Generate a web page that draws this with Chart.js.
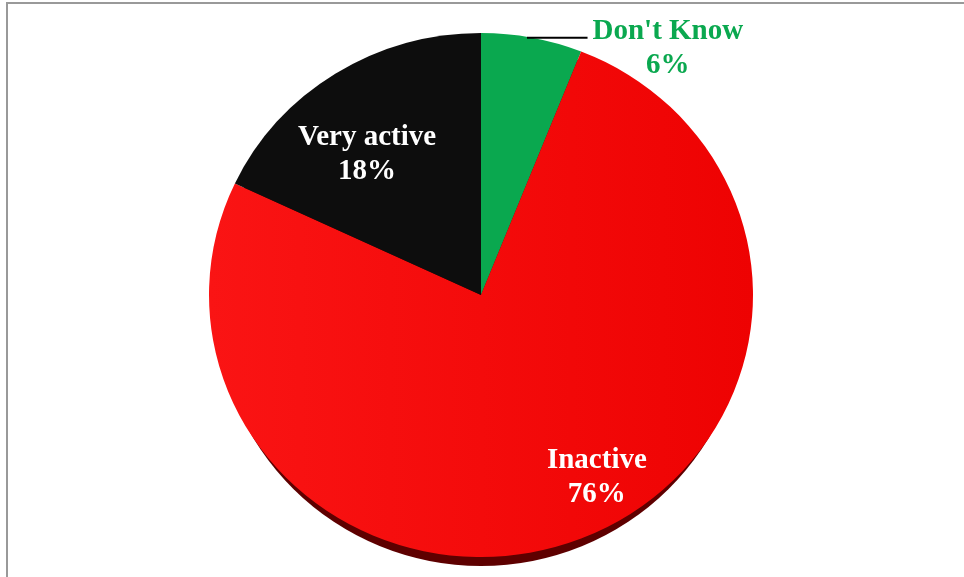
<!DOCTYPE html>
<html>
<head>
<meta charset="utf-8">
<title>Activity</title>
<script src="https://cdn.jsdelivr.net/npm/chart.js@4.4.1/dist/chart.umd.min.js"></script>
<style>
  html, body { margin: 0; padding: 0; background: #fff; overflow: hidden; }
  #wrap { position: relative; width: 964px; height: 577px; }
  #frame {
    position: absolute; left: 6px; top: 2px; width: 1000px; height: 640px;
    border: 2px solid #999; box-sizing: border-box;
  }
  #pie { position: absolute; left: 0; top: 0; }
</style>
</head>
<body>
<div id="wrap">
  <div id="frame"></div>
  <canvas id="pie" width="964" height="577"></canvas>
</div>
<script>
const categories = ["Don't Know", 'Inactive', 'Very active'];
const shares = [6, 76, 18];
const sliceColors = ['#0aa84f', '#f20808', '#0d0d0d'];
const labelColors = ['#0aa84f', '#ffffff', '#ffffff'];

// squash the pie a little so it reads as a tilted disc
const TILT = 262 / 272;

function tilt(ctx, x, y) {
    ctx.translate(x, y);
    ctx.scale(1, TILT);
    ctx.translate(-x, -y);
}

const tiltedPie = {
    id: 'tiltedPie',
    beforeDatasetsDraw(chart) {
        const arc = chart.getDatasetMeta(0).data[0];
        if (!arc) return;
        const ctx = chart.ctx;
        // dark rim under the disc, only shows along the lower edge
        ctx.save();
        ctx.translate(0, 9);
        tilt(ctx, arc.x, arc.y);
        ctx.beginPath();
        ctx.ellipse(arc.x, arc.y, arc.outerRadius - 7, arc.outerRadius, 0, 0, Math.PI * 2);
        ctx.fillStyle = '#5e0000';
        ctx.fill();
        ctx.restore();

        ctx.save();
        tilt(ctx, arc.x, arc.y);
    },
    afterDatasetsDraw(chart) {
        chart.ctx.restore();
    }
};

// labels: anchor is first-line baseline, given as fraction of radius from the centre
const sliceLabels = {
    id: 'sliceLabels',
    afterDraw(chart, args, opts) {
        const ctx = chart.ctx;
        const arcs = chart.getDatasetMeta(0).data;
        ctx.save();
        ctx.font = 'bold 29px "Liberation Serif", "Times New Roman", serif';
        ctx.textAlign = 'center';
        ctx.textBaseline = 'alphabetic';
        arcs.forEach((arc, i) => {
            const r = arc.outerRadius;
            const [fx, fy] = opts.anchors[i];
            const x = arc.x + fx * r;
            const y = arc.y + fy * r;
            ctx.fillStyle = labelColors[i];
            ctx.fillText(categories[i], x, y);
            ctx.fillText(shares[i] + '%', x, y + 34);

            if (opts.leader[i]) {
                const mid = (arc.startAngle + arc.endAngle) / 2;
                const ex = arc.x + Math.cos(mid) * r;
                const ey = arc.y + Math.sin(mid) * r * TILT;
                const w = ctx.measureText(categories[i]).width;
                ctx.beginPath();
                ctx.moveTo(ex - 5, ey);
                ctx.lineTo(x - w / 2 - 5, ey);
                ctx.lineWidth = 2;
                ctx.strokeStyle = '#000';
                ctx.stroke();
            }
        });
        ctx.restore();
    }
};

function redShade(context) {
    const c = context.chart;
    const area = c.chartArea;
    if (!area) return sliceColors[1];
    const g = c.ctx.createLinearGradient(area.left, 0, area.right, 0);
    g.addColorStop(0, '#fa1414');
    g.addColorStop(1, '#ee0202');
    return g;
}

new Chart(document.getElementById('pie'), {
    type: 'pie',
    data: {
        labels: categories,
        datasets: [{
            data: shares,
            backgroundColor: ctx => ctx.dataIndex === 1 ? redShade(ctx) : sliceColors[ctx.dataIndex],
            borderWidth: 0,
            hoverOffset: 0
        }]
    },
    options: {
        responsive: false,
        animation: false,
        events: [],
        layout: { padding: { left: 209, right: 211, top: 23, bottom: 10 } },
        plugins: {
            legend: { display: false },
            tooltip: { enabled: false },
            sliceLabels: {
                anchors: [[0.687, -0.941], [0.426, 0.636], [-0.419, -0.551]],
                leader: [true, false, false]
            }
        }
    },
    plugins: [tiltedPie, sliceLabels]
});
</script>
</body>
</html>
